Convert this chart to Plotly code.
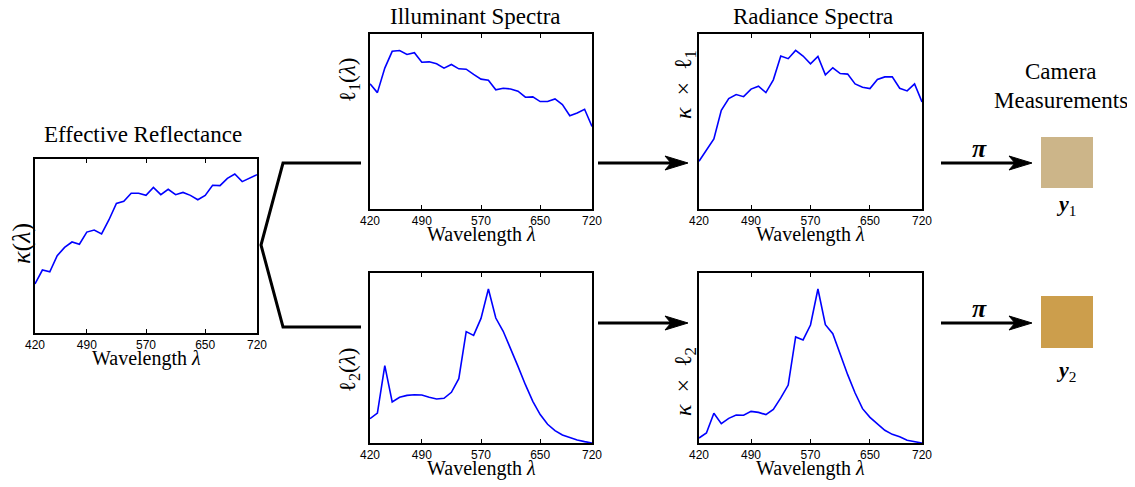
import plotly.graph_objects as go

# ---------------- data ----------------
wavelengths = list(range(420, 721, 10))
tick_vals = [420, 490, 570, 650, 720]
tick_text = ["420", "490", "570", "650", "720"]

reflectance = [0.282, 0.362, 0.352, 0.444, 0.492, 0.523, 0.510, 0.580, 0.592, 0.569,
               0.651, 0.745, 0.757, 0.803, 0.803, 0.791, 0.837, 0.795, 0.826, 0.795,
               0.808, 0.791, 0.766, 0.791, 0.849, 0.847, 0.889, 0.914, 0.870, 0.889, 0.910]

illum1 = [0.715, 0.665, 0.805, 0.901, 0.906, 0.883, 0.893, 0.839, 0.841, 0.830,
          0.805, 0.826, 0.801, 0.799, 0.769, 0.742, 0.736, 0.681, 0.690, 0.686,
          0.673, 0.639, 0.641, 0.614, 0.614, 0.629, 0.597, 0.533, 0.549, 0.570, 0.472]

illum2 = [0.143, 0.176, 0.455, 0.241, 0.269, 0.280, 0.284, 0.282, 0.269, 0.259,
          0.263, 0.298, 0.378, 0.655, 0.633, 0.733, 0.906, 0.735, 0.657, 0.559,
          0.451, 0.343, 0.245, 0.167, 0.110, 0.073, 0.047, 0.033, 0.018, 0.008, 0.0]

radiance1 = [0.273, 0.338, 0.400, 0.564, 0.631, 0.654, 0.642, 0.685, 0.702, 0.665,
             0.738, 0.874, 0.859, 0.906, 0.874, 0.830, 0.872, 0.767, 0.807, 0.774,
             0.771, 0.715, 0.696, 0.688, 0.740, 0.755, 0.755, 0.690, 0.675, 0.715, 0.612]

radiance2 = [0.029, 0.059, 0.175, 0.114, 0.145, 0.165, 0.163, 0.186, 0.180, 0.167,
             0.198, 0.265, 0.341, 0.624, 0.606, 0.694, 0.906, 0.696, 0.643, 0.520,
             0.402, 0.294, 0.202, 0.151, 0.110, 0.075, 0.051, 0.037, 0.016, 0.006, 0.0]

camera_colors = ["#CCB589", "#CC9E4C"]

# ---------------- layout helpers ----------------
W, H = 1135, 487
OFF = 8  # page body margin in the rendered page


def px(x):
    return (x - OFF) / W


def py(y):
    return 1 - (y - OFF) / H


SERIF = "Liberation Serif, Times New Roman, DejaVu Serif, serif"
SANS = "Liberation Sans, Arial, sans-serif"

# panel boxes in pixels: (left, right, top, bottom)
panels = [
    (35, 257, 159, 333, reflectance),
    (370, 592, 34, 209, illum1),
    (370, 592, 273, 443, illum2),
    (699, 922, 34, 209, radiance1),
    (699, 922, 273, 443, radiance2),
]

fig = go.Figure()
layout = dict(
    width=W, height=H, autosize=False,
    margin=dict(l=0, r=0, t=0, b=0, pad=0, autoexpand=False),
    paper_bgcolor="white", plot_bgcolor="white",
    showlegend=False,
)

annotations = []
for i, (l, r, t, b, vals) in enumerate(panels):
    n = "" if i == 0 else str(i + 1)
    fig.add_trace(go.Scatter(
        x=wavelengths, y=vals, mode="lines",
        line=dict(color="#0000FF", width=1.6),
        xaxis="x" + n, yaxis="y" + n, hoverinfo="skip",
    ))
    layout["xaxis" + n] = dict(
        domain=[px(l), px(r)], anchor="y" + n, range=[420, 720],
        tickvals=tick_vals, ticktext=tick_text, ticks="inside", ticklen=4,
        tickcolor="black", tickwidth=1, automargin=False,
        showline=True, linecolor="black", linewidth=1.6, mirror="ticks",
        showgrid=False, zeroline=False,
        tickfont=dict(family=SANS, size=12, color="black"),
    )
    layout["yaxis" + n] = dict(
        domain=[py(b), py(t)], anchor="x" + n, range=[0, 1],
        showticklabels=False, ticks="", automargin=False,
        showline=True, linecolor="black", linewidth=1.6, mirror=True,
        showgrid=False, zeroline=False,
    )
    annotations.append(dict(
        text="Wavelength <i>λ</i>", x=px((l + r) / 2), y=py(b + 25),
        xref="paper", yref="paper", showarrow=False,
        font=dict(family=SERIF, size=20, color="black"),
        xanchor="center", yanchor="middle",
    ))

# titles
for txt, x, y in [("Effective Reflectance", 143, 135),
                  ("Illuminant Spectra", 475, 17),
                  ("Radiance Spectra", 813, 17),
                  ("Camera", 1061, 72),
                  ("Measurements", 1061, 100)]:
    annotations.append(dict(
        text=txt, x=px(x), y=py(y), xref="paper", yref="paper", showarrow=False,
        font=dict(family=SERIF, size=23, color="black"),
        xanchor="center", yanchor="middle",
    ))

# y-axis labels (rotated)
for txt, x, y, s in [("<i>κ</i>(<i>λ</i>)", 21, 244, 26),
                     ("ℓ<sub>1</sub>(<i>λ</i>)", 349, 80, 23),
                     ("ℓ<sub>2</sub>(<i>λ</i>)", 349, 370, 23),
                     ("<i>κ</i> &nbsp;× &nbsp;ℓ<sub>1</sub>", 685, 85, 24),
                     ("<i>κ</i> &nbsp;× &nbsp;ℓ<sub>2</sub>", 685, 382, 24)]:
    annotations.append(dict(
        text=txt, x=px(x), y=py(y), xref="paper", yref="paper", showarrow=False,
        textangle=-90,
        font=dict(family=SERIF, size=s, color="black"),
        xanchor="center", yanchor="middle",
    ))

# pi labels
for y in [148, 308]:
    annotations.append(dict(
        text="<b><i>π</i></b>", x=px(979), y=py(y), xref="paper", yref="paper",
        showarrow=False, font=dict(family=SERIF, size=26, color="black"),
        xanchor="center", yanchor="middle",
    ))

# y labels under squares
for txt, y in [("<b><i>y</i></b><sub>1</sub>", 205), ("<b><i>y</i></b><sub>2</sub>", 371)]:
    annotations.append(dict(
        text=txt, x=px(1066), y=py(y), xref="paper", yref="paper",
        showarrow=False, font=dict(family=SERIF, size=22, color="black"),
        xanchor="center", yanchor="middle",
    ))

shapes = []
# branch lines
path = "M {} {} L {} {} L {} {} L {} {} L {} {}".format(
    px(361), py(163), px(283), py(163), px(261), py(245),
    px(283), py(327), px(361), py(327))
shapes.append(dict(type="path", path=path, xref="paper", yref="paper",
                   line=dict(color="black", width=3)))

# arrows: shaft + concave filled head
for x0, x1, y in [(598, 688, 163), (598, 688, 323), (941, 1032, 163), (941, 1032, 323)]:
    shapes.append(dict(type="line", xref="paper", yref="paper",
                       x0=px(x0), x1=px(x1 - 14), y0=py(y), y1=py(y),
                       line=dict(color="black", width=3)))
    head = "M {} {} L {} {} L {} {} L {} {} Z".format(
        px(x1), py(y), px(x1 - 23), py(y - 7), px(x1 - 17), py(y),
        px(x1 - 23), py(y + 7))
    shapes.append(dict(type="path", path=head, xref="paper", yref="paper",
                       fillcolor="black", line=dict(color="black", width=1)))

# camera squares
for col, (t, b) in zip(camera_colors, [(137, 188), (296, 348)]):
    shapes.append(dict(type="rect", xref="paper", yref="paper",
                       x0=px(1041), x1=px(1093), y0=py(b), y1=py(t),
                       fillcolor=col, line=dict(width=0)))

layout["annotations"] = annotations
layout["shapes"] = shapes
fig.update_layout(**layout)
fig.write_html("out.html")
